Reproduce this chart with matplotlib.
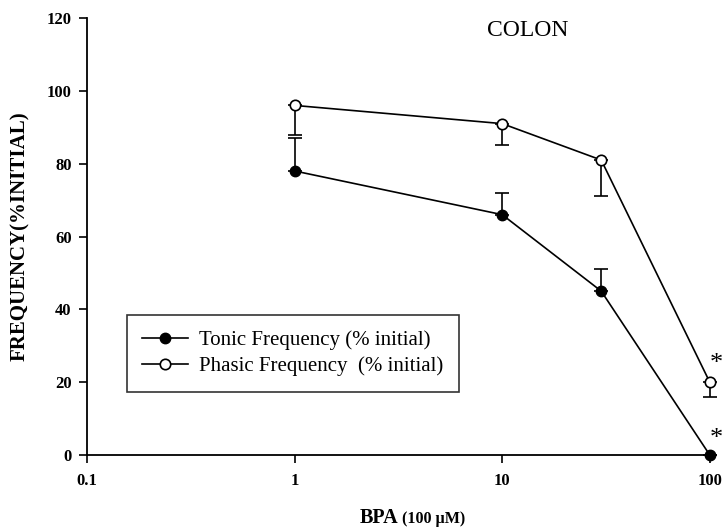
import matplotlib
matplotlib.use("Agg")
import matplotlib.pyplot as plt

# data
dose = [1, 10, 30, 100]
tonic = [78, 66, 45, 0]
tonic_err = [9, 6, 6, 0]
phasic = [96, 91, 81, 20]
phasic_err = [8, 6, 10, 4]

plt.rcParams['font.family'] = ['Liberation Serif', 'DejaVu Serif']

fig = plt.figure(figsize=(7.25, 5.3), dpi=100)
ax = fig.add_axes([0.12, 0.1415, 0.859, 0.8245])

# error bars: tonic goes up, phasic goes down
for y, err in [(tonic, [[0] * 4, tonic_err]), (phasic, [phasic_err, [0] * 4])]:
    eb = ax.errorbar(dose, y, yerr=err, fmt='none', ecolor='black',
                     elinewidth=1.2, capsize=5, capthick=1.2)
    for art in eb.lines[1] + eb.lines[2]:
        art.set_clip_on(False)

ax.plot(dose, tonic, color='black', lw=1.2, marker='o', ms=7.5,
        mfc='black', mec='black', label='Tonic Frequency (% initial)',
        zorder=3, clip_on=False)
ax.plot(dose, phasic, color='black', lw=1.2, marker='o', ms=7.5,
        mfc='white', mec='black', mew=1.2,
        label='Phasic Frequency  (% initial)', zorder=3, clip_on=False)

# significance marks
ax.text(100, phasic[3] + 2, '*', fontsize=19, ha='left', va='bottom')
ax.text(100, tonic[3] + 1.5, '*', fontsize=19, ha='left', va='bottom')

ax.set_xscale('log')
ax.set_xlim(0.1, 100)
ax.set_ylim(0, 120)
ax.set_xticks([0.1, 1, 10, 100])
ax.set_xticklabels(['0.1', '1', '10', '100'])
ax.minorticks_off()
ax.set_yticks(range(0, 121, 20))
for lab in ax.get_xticklabels() + ax.get_yticklabels():
    lab.set_fontweight('bold')
    lab.set_fontsize(12)
ax.tick_params(axis='both', direction='out', length=6, width=1.2, pad=5)
ax.tick_params(axis='x', pad=7)

for s in ['top', 'right']:
    ax.spines[s].set_visible(False)
for s in ['left', 'bottom']:
    ax.spines[s].set_linewidth(1.3)

ax.set_ylabel('FREQUENCY(%INITIAL)', fontsize=15, fontweight='bold', labelpad=12)
ax.text(0.5, -0.155, 'BPA', transform=ax.transAxes, fontsize=14.5,
        fontweight='bold', ha='right', va='baseline')
ax.text(0.505, -0.155, '(100 \u00b5M)', transform=ax.transAxes, fontsize=11.5,
        fontweight='bold', ha='left', va='baseline')

ax.text(13.3, 116.5, 'COLON', fontsize=17, ha='center', va='center')

leg = ax.legend(loc='lower left', bbox_to_anchor=(0.064, 0.144), fontsize=15,
                frameon=True, fancybox=False, edgecolor='black',
                handlelength=2.2, handletextpad=0.5, borderpad=0.75,
                labelspacing=0.3, borderaxespad=0)
leg.get_frame().set_linewidth(1.2)

fig.savefig('out.png', dpi=100)
